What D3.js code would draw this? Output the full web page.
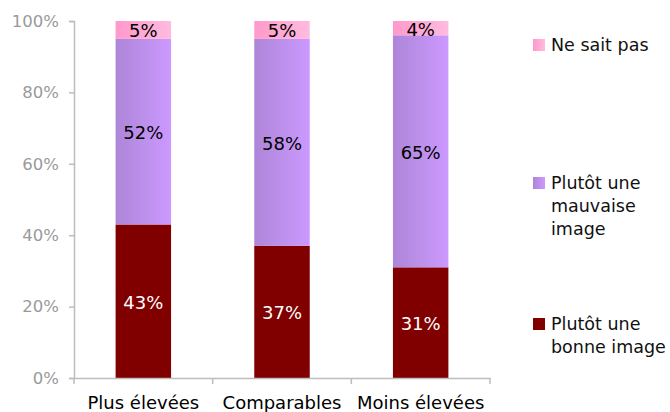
<!DOCTYPE html>
<html><head><meta charset="utf-8">
<script src="https://cdn.jsdelivr.net/npm/d3@7"></script>
<style>body{margin:0;background:#fff}svg{display:block}text{font-family:"DejaVu Sans",Verdana,sans-serif}</style>
</head><body><svg id="c" width="670" height="412"></svg>
<script>
const categories = ["Plus élevées", "Comparables", "Moins élevées"];
const seriesNames = ["Plutôt une bonne image", "Plutôt une mauvaise image", "Ne sait pas"];
const bonne = [43, 37, 31];
const mauvaise = [52, 58, 65];
const nsp = [5, 5, 4];
const yTicks = [0, 20, 40, 60, 80, 100];

const svg = d3.select("#c");
const defs = svg.append("defs");
function grad(id, c1, c2){
  const g = defs.append("linearGradient").attr("id", id).attr("x1","0").attr("x2","1").attr("y1","0").attr("y2","0");
  g.append("stop").attr("offset","0").attr("stop-color",c1);
  g.append("stop").attr("offset","1").attr("stop-color",c2);
}
grad("gPink", "#ff99cc", "#ffbbdd");
grad("gPurp", "#ad86d8", "#cc99ff");
const fills = ["#800000", "url(#gPurp)", "url(#gPink)"];
const textCol = ["#ffffff", "#000000", "#000000"];
const FF = '"DejaVu Sans",Verdana,sans-serif';

const x = d3.scaleBand().domain(categories).range([74, 490]).paddingInner(0.6).paddingOuter(0.3);
const y = d3.scaleLinear().domain([0, 100]).range([378, 21]);

const rows = categories.map((c, i) => ({cat: c, v: [bonne[i], mauvaise[i], nsp[i]]}));
const stack = d3.stack().keys([0,1,2]).value((d, k) => d.v[k]);
const layers = stack(rows);

layers.forEach((layer, k) => {
  const g = svg.append("g");
  g.selectAll("rect").data(layer).enter().append("rect")
    .attr("x", d => x(d.data.cat))
    .attr("width", x.bandwidth())
    .attr("y", d => y(d[1]))
    .attr("height", d => y(d[0]) - y(d[1]))
    .attr("fill", fills[k]);
  g.selectAll("text").data(layer).enter().append("text")
    .attr("x", d => x(d.data.cat) + x.bandwidth()/2)
    .attr("y", d => (y(d[0]) + y(d[1]))/2 + 1)
    .attr("dy", "0.36em")
    .attr("text-anchor", "middle")
    .attr("font-size", 18)
    .attr("fill", textCol[k])
    .text(d => d.data.v[k] + "%");
});

// y axis
const ya = svg.append("g").attr("transform", "translate(74,0)")
  .call(d3.axisLeft(y).tickValues(yTicks).tickFormat(d => d + "%").tickSize(5).tickPadding(10));
ya.select(".domain").attr("stroke", "#bdbdbd").attr("stroke-width", 1.5);
ya.selectAll(".tick line").attr("stroke", "#bdbdbd").attr("stroke-width", 1.5);
ya.selectAll("text").attr("fill", "#9a9a9a").attr("font-size", 16.5).attr("font-family", FF);

// x axis
const xa = svg.append("g").attr("transform", "translate(0,378)")
  .call(d3.axisBottom(x).tickSize(0).tickPadding(18));
xa.select(".domain").attr("stroke", "#bdbdbd").attr("stroke-width", 1.5);
xa.selectAll("text").attr("fill", "#000").attr("font-size", 18).attr("font-family", FF);
const bounds = [0, 1, 2, 3].map(i => 74 + i * (x.step()));
xa.selectAll(".bnd").data(bounds).enter().append("line").attr("class","bnd")
  .attr("x1", d => d).attr("x2", d => d).attr("y1", 0).attr("y2", 6)
  .attr("stroke", "#bdbdbd").attr("stroke-width", 1.5);

// legend
const legend = [
  {k: 2, lines: ["Ne sait pas"], y: 45},
  {k: 1, lines: ["Plutôt une", "mauvaise", "image"], y: 183},
  {k: 0, lines: ["Plutôt une", "bonne image"], y: 324}
];
legend.forEach(L => {
  svg.append("rect").attr("x", 533).attr("y", L.y - 6).attr("width", 12).attr("height", 12).attr("fill", fills[L.k]);
  const t = svg.append("text").attr("x", 551).attr("y", L.y).attr("font-size", 17.5).attr("fill", "#111");
  L.lines.forEach((ln, i) => t.append("tspan").attr("x", 551).attr("dy", i === 0 ? "0.36em" : "23px").text(ln));
});
</script></body></html>
